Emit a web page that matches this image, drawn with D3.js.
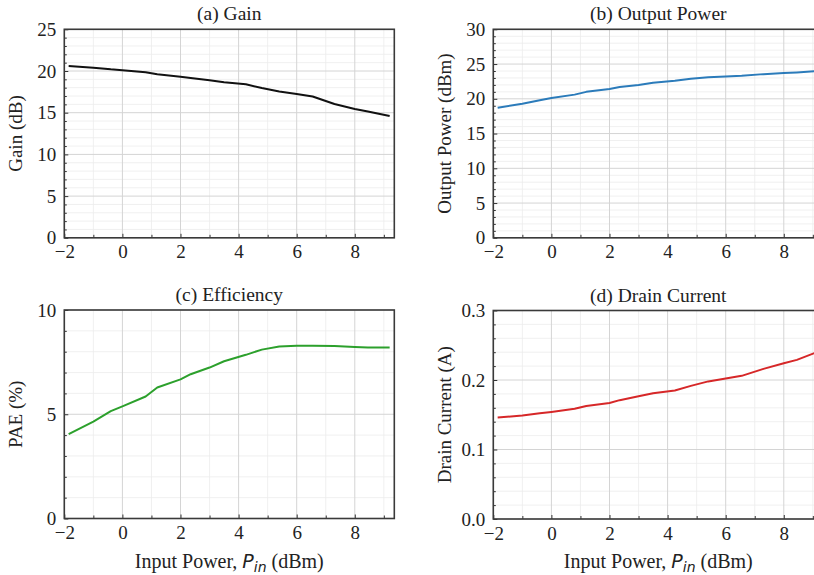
<!DOCTYPE html>
<html>
<head>
<meta charset="utf-8">
<script src="https://cdn.jsdelivr.net/npm/d3@7"></script>
<style>
  html, body { margin: 0; padding: 0; background: #fff; }
  svg { display: block; }
  text { font-family: "Liberation Serif", "Times New Roman", serif; fill: #222; }
</style>
</head>
<body>
<svg id="chart" width="814" height="575"></svg>
<script>
// Input power sweep (dBm)
const pinValues = [-1.85, -1, -0.4, 0, 0.8, 1.2, 2, 2.35, 3, 3.5, 4.25, 4.8, 5.4, 6, 6.55, 7.3, 8, 8.45, 9.2];

// Measured responses at each input power
const gainValues = [20.6, 20.4, 20.2, 20.1, 19.85, 19.6, 19.3, 19.15, 18.9, 18.65, 18.4, 17.95, 17.55, 17.25, 16.95, 16.05, 15.45, 15.15, 14.6];
const outputPowerValues = [18.7, 19.3, 19.8, 20.1, 20.6, 21.0, 21.4, 21.7, 22.0, 22.3, 22.6, 22.9, 23.1, 23.2, 23.3, 23.55, 23.7, 23.8, 24.0];
const paeValues = [4.05, 4.65, 5.15, 5.38, 5.85, 6.28, 6.67, 6.92, 7.24, 7.54, 7.85, 8.1, 8.25, 8.28, 8.29, 8.27, 8.22, 8.2, 8.2];
const drainCurrentValues = [0.146, 0.149, 0.152, 0.154, 0.1585, 0.1625, 0.167, 0.171, 0.1765, 0.181, 0.185, 0.1915, 0.198, 0.202, 0.206, 0.216, 0.224, 0.229, 0.241];

// Axis ticks
const xMajorTicks = [-2, 0, 2, 4, 6, 8];
const xMinorTicks = [-1, 1, 3, 5, 7, 9];
const gainTicks = [0, 5, 10, 15, 20, 25];
const powerTicks = [0, 5, 10, 15, 20, 25, 30];
const paeTicks = [0, 5, 10];
const currentTicks = [0, 0.1, 0.2, 0.3];

// Panel titles and axis labels
const panelTitles = ["(a) Gain", "(b) Output Power", "(c) Efficiency", "(d) Drain Current"];
const yLabels = ["Gain (dB)", "Output Power (dBm)", "PAE (%)", "Drain Current (A)"];

const svg = d3.select("#chart");
const boxW = 330, boxH = 208.5;
const xDomain = [-2, 9.36];
const mathFont = '"DejaVu Sans", sans-serif';

const panels = [
  { left: 64.3, top: 29.3, values: gainValues, color: "#111111", yDomain: [0, 25], major: gainTicks, minorStep: 1, fmt: d3.format("d"), xLabel: false },
  { left: 493.3, top: 29.3, values: outputPowerValues, color: "#2b7bba", yDomain: [0, 30], major: powerTicks, minorStep: 1, fmt: d3.format("d"), xLabel: false },
  { left: 64.3, top: 310, values: paeValues, color: "#2ca02c", yDomain: [0, 10], major: paeTicks, minorStep: 1, fmt: d3.format("d"), xLabel: true },
  { left: 493.3, top: 310.5, values: drainCurrentValues, color: "#d62728", yDomain: [0, 0.3], major: currentTicks, minorStep: 0.02, fmt: d3.format(".1f"), xLabel: true }
];

panels.forEach((p, i) => {
  const g = svg.append("g").attr("transform", `translate(${p.left},${p.top})`);
  const x = d3.scaleLinear().domain(xDomain).range([0, boxW]);
  const y = d3.scaleLinear().domain(p.yDomain).range([boxH, 0]);

  const yMinor = d3.range(p.yDomain[0], p.yDomain[1] + 1e-9, p.minorStep)
    .map(v => +v.toFixed(4))
    .filter(v => !p.major.some(m => Math.abs(m - v) < 1e-9));
  const xMinor = xMinorTicks.filter(v => v < xDomain[1]);

  // minor grid
  const grid = g.append("g");
  grid.selectAll(".xmin").data(xMinor).join("line")
    .attr("x1", d => x(d)).attr("x2", d => x(d)).attr("y1", 0).attr("y2", boxH)
    .attr("stroke", "#ececec").attr("stroke-width", 0.8);
  grid.selectAll(".ymin").data(yMinor).join("line")
    .attr("x1", 0).attr("x2", boxW).attr("y1", d => y(d)).attr("y2", d => y(d))
    .attr("stroke", "#ececec").attr("stroke-width", 0.8);
  // major grid
  grid.selectAll(".xmaj").data(xMajorTicks).join("line")
    .attr("x1", d => x(d)).attr("x2", d => x(d)).attr("y1", 0).attr("y2", boxH)
    .attr("stroke", "#d4d4d4").attr("stroke-width", 1);
  grid.selectAll(".ymaj").data(p.major).join("line")
    .attr("x1", 0).attr("x2", boxW).attr("y1", d => y(d)).attr("y2", d => y(d))
    .attr("stroke", "#d4d4d4").attr("stroke-width", 1);

  // data line
  const line = d3.line().x((d, k) => x(pinValues[k])).y(d => y(d));
  g.append("path").datum(p.values)
    .attr("d", line).attr("fill", "none")
    .attr("stroke", p.color).attr("stroke-width", 2).attr("stroke-linejoin", "round");

  // axes with inward ticks
  const xAxis = g.append("g").attr("transform", `translate(0,${boxH})`)
    .call(d3.axisBottom(x).tickValues(xMajorTicks).tickFormat(d3.format("d")).tickSize(-4).tickPadding(7));
  g.append("g").attr("transform", `translate(0,${boxH})`)
    .call(d3.axisBottom(x).tickValues(xMinor).tickFormat("").tickSize(-3));
  g.append("g")
    .call(d3.axisLeft(y).tickValues(p.major).tickFormat(p.fmt).tickSize(-4).tickPadding(8));
  g.append("g")
    .call(d3.axisLeft(y).tickValues(yMinor).tickFormat("").tickSize(-2.5));

  g.selectAll(".domain").remove();
  g.selectAll(".tick line").attr("stroke", "#333").attr("stroke-width", 1);
  g.selectAll(".tick text").attr("font-size", 19).attr("fill", "#222")
    .style("font-family", '"Liberation Serif", serif');
  xAxis.selectAll(".tick text").attr("dy", "0.72em");

  // frame
  g.append("rect").attr("x", 0).attr("y", 0).attr("width", boxW).attr("height", boxH)
    .attr("fill", "none").attr("stroke", "#3a3a3a").attr("stroke-width", 1.6);

  // title
  g.append("text").attr("x", boxW / 2).attr("y", -9)
    .attr("text-anchor", "middle").attr("font-size", 19.5).text(panelTitles[i]);

  // y label
  g.append("text")
    .attr("transform", `translate(${-42.5},${boxH / 2}) rotate(-90)`)
    .attr("text-anchor", "middle").attr("font-size", 19).text(yLabels[i]);

  // x label
  if (p.xLabel) {
    const t = g.append("text").attr("x", boxW / 2).attr("y", boxH + 49)
      .attr("text-anchor", "middle").attr("font-size", 20);
    t.append("tspan").text("Input Power, ");
    t.append("tspan").attr("font-style", "italic").style("font-family", mathFont).attr("font-size", 19).text("P");
    t.append("tspan").attr("font-style", "italic").style("font-family", mathFont)
      .attr("font-size", 14).attr("dy", 4).text("in");
    t.append("tspan").attr("dy", -4).text(" (dBm)");
  }
});
</script>
</body>
</html>
